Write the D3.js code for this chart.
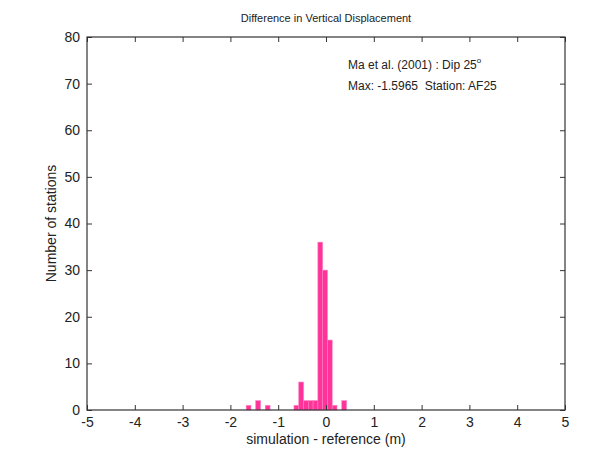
<!DOCTYPE html>
<html>
<head>
<meta charset="utf-8">
<script src="https://cdn.jsdelivr.net/npm/d3@7"></script>
<style>
  body { margin: 0; background: #fff; }
  text { font-family: "Liberation Sans", Arial, sans-serif; fill: #222; }
</style>
</head>
<body>
<div id="chart"></div>
<script>
// Histogram bins (centres, m) and station counts
const binCenters = [-1.62, -1.42, -1.22, -0.62, -0.52, -0.42, -0.32, -0.22, -0.12, -0.02, 0.08, 0.18, 0.38];
const binCounts  = [1, 2, 1, 1, 6, 2, 2, 2, 36, 30, 15, 1, 2];
const binWidth = 0.1;

const xTicks = [-5, -4, -3, -2, -1, 0, 1, 2, 3, 4, 5];
const yTicks = [0, 10, 20, 30, 40, 50, 60, 70, 80];

const width = 611;
const height = 458;
const margin = { top: 37, right: 46, bottom: 48, left: 87 };

const svg = d3.select("#chart").append("svg")
    .attr("width", width)
    .attr("height", height);

const x = d3.scaleLinear().domain([-5, 5]).range([margin.left, width - margin.right]);
const y = d3.scaleLinear().domain([0, 80]).range([height - margin.bottom, margin.top]);

// Bars
svg.append("g")
    .selectAll("rect")
    .data(binCenters.map((c, i) => ({ c, n: binCounts[i] })))
    .enter().append("rect")
    .attr("x", d => x(d.c - binWidth / 2))
    .attr("width", d => x(d.c + binWidth / 2) - x(d.c - binWidth / 2))
    .attr("y", d => y(d.n))
    .attr("height", d => y(0) - y(d.n))
    .attr("fill", "#ff3399")
    .attr("stroke", "#ff7fbf")
    .attr("stroke-width", 0.6);

// Axes (ticks inward, like MATLAB), plain hyphen for negatives
const fmt = d => String(d);
const axStyle = g => {
    g.select(".domain").remove();
    g.selectAll("line").attr("stroke", "#333");
    g.selectAll("text").attr("font-size", 14).attr("fill", "#222");
};

svg.append("g")
    .attr("transform", `translate(0,${y(0)})`)
    .call(d3.axisBottom(x).tickValues(xTicks).tickFormat(fmt).tickSizeInner(-5).tickSizeOuter(0).tickPadding(7))
    .call(axStyle);

svg.append("g")
    .attr("transform", `translate(0,${y(80)})`)
    .call(d3.axisTop(x).tickValues(xTicks).tickSizeInner(-5).tickSizeOuter(0).tickFormat(""))
    .call(axStyle);

svg.append("g")
    .attr("transform", `translate(${x(-5)},0)`)
    .call(d3.axisLeft(y).tickValues(yTicks).tickFormat(fmt).tickSizeInner(-5).tickSizeOuter(0).tickPadding(7))
    .call(axStyle);

svg.append("g")
    .attr("transform", `translate(${x(5)},0)`)
    .call(d3.axisRight(y).tickValues(yTicks).tickSizeInner(-5).tickSizeOuter(0).tickFormat(""))
    .call(axStyle);

// Box
svg.append("rect")
    .attr("x", x(-5))
    .attr("y", y(80))
    .attr("width", x(5) - x(-5))
    .attr("height", y(0) - y(80))
    .attr("fill", "none")
    .attr("stroke", "#333")
    .attr("stroke-width", 1.2);

// Title and labels
svg.append("text")
    .attr("x", (x(-5) + x(5)) / 2)
    .attr("y", 22)
    .attr("text-anchor", "middle")
    .attr("font-size", 11)
    .text("Difference in Vertical Displacement");

svg.append("text")
    .attr("x", (x(-5) + x(5)) / 2)
    .attr("y", 444)
    .attr("text-anchor", "middle")
    .attr("font-size", 14)
    .text("simulation - reference (m)");

svg.append("text")
    .attr("transform", `translate(56,${(y(0) + y(80)) / 2}) rotate(-90)`)
    .attr("text-anchor", "middle")
    .attr("font-size", 14)
    .text("Number of stations");

// Annotations
const note1 = svg.append("text")
    .attr("x", 348)
    .attr("y", 69)
    .attr("font-size", 12);
note1.append("tspan").text("Ma et al. (2001) : Dip 25");
note1.append("tspan").attr("font-size", 8).attr("dy", -6).text("o");

svg.append("text")
    .attr("x", 348)
    .attr("y", 90)
    .attr("font-size", 12)
    .attr("xml:space", "preserve")
    .text("Max: -1.5965  Station: AF25");
</script>
</body>
</html>
